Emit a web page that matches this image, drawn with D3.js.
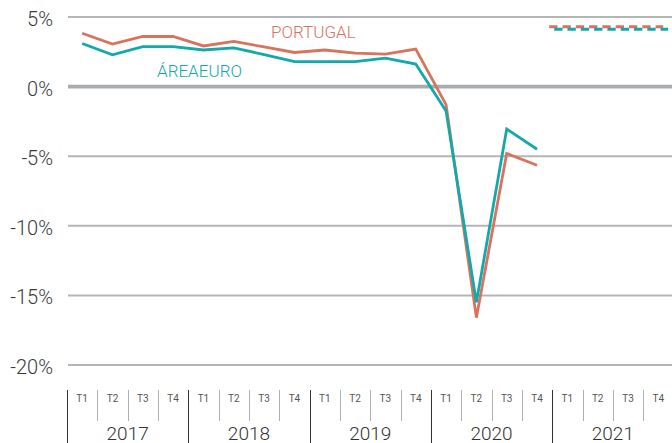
<!DOCTYPE html>
<html>
<head>
<meta charset="utf-8">
<script src="https://cdn.jsdelivr.net/npm/d3@7"></script>
<style>
  body { margin: 0; background: #fff; }
  text { font-family: Roboto, "Open Sans", sans-serif; }
</style>
</head>
<body>
<div id="chart"></div>
<script>
const years = ["2017", "2018", "2019", "2020", "2021"];
const quarters = ["T1", "T2", "T3", "T4"];
const y_ticks = [5, 0, -5, -10, -15, -20];

// quarterly growth (yoy %), 2017T1 .. 2020T4
const portugal = [3.83, 3.05, 3.6, 3.6, 2.92, 3.25, 2.85, 2.45, 2.63, 2.4, 2.33, 2.7, -1.3, -16.6, -4.8, -5.65];
const euro_area = [3.1, 2.28, 2.87, 2.87, 2.63, 2.78, 2.3, 1.8, 1.8, 1.8, 2.04, 1.62, -1.75, -15.5, -3.05, -4.5];

// 2021 projection
const proj_year = "2021";
const portugal_proj = 4.3;
const euro_proj = 4.12;

const width = 672;
const height = 443;
const colPT = "#d8735e";
const colEA = "#13a9ab";

const svg = d3.select("#chart")
    .append("svg")
    .attr("width", width)
    .attr("height", height);

const quarter_keys = years.flatMap(yr => quarters.map(q => yr + q));

const x = d3.scaleBand()
    .domain(quarter_keys)
    .range([67, 673.5]);

const xYear = d3.scaleBand()
    .domain(years)
    .range([67, 673.5]);

const y = d3.scaleLinear()
    .domain([-20, 5])
    .range([365, 17]);

// grid
svg.selectAll(".grid")
    .data(y_ticks)
    .enter()
    .append("line")
    .attr("class", "grid")
    .attr("x1", 68)
    .attr("x2", width)
    .attr("y1", d => y(d))
    .attr("y2", d => y(d))
    .attr("stroke", d => d === 0 ? "#a9acaf" : "#b3b6b8")
    .attr("stroke-width", d => d === 0 ? 3.8 : 2);

svg.selectAll(".ylab")
    .data(y_ticks)
    .enter()
    .append("text")
    .attr("class", "ylab")
    .attr("x", 53)
    .attr("y", d => y(d) + 9)
    .attr("text-anchor", "end")
    .attr("font-size", 20)
    .attr("font-weight", 300)
    .attr("fill", "#3a3a3a")
    .text(d => d + "%");

// x axis: quarter ticks & labels
const bw = x.bandwidth();
svg.selectAll(".qtick")
    .data(quarter_keys)
    .enter()
    .append("line")
    .attr("class", "qtick")
    .attr("x1", d => Math.round(x(d)) + 0.5)
    .attr("x2", d => Math.round(x(d)) + 0.5)
    .attr("y1", 390)
    .attr("y2", d => d.endsWith("T1") ? height : 421)
    .attr("stroke", d => d.endsWith("T1") ? "#333" : "#b0b0b0")
    .attr("stroke-width", 1);

svg.selectAll(".qlab")
    .data(quarter_keys)
    .enter()
    .append("text")
    .attr("class", "qlab")
    .attr("x", d => x(d) + bw / 2)
    .attr("y", 402)
    .attr("text-anchor", "middle")
    .attr("font-size", 10)
    .attr("fill", "#555")
    .text(d => d.slice(4));

svg.selectAll(".ylab2")
    .data(years)
    .enter()
    .append("text")
    .attr("class", "ylab2")
    .attr("x", d => xYear(d) + xYear.bandwidth() / 2)
    .attr("y", 439.5)
    .attr("text-anchor", "middle")
    .attr("font-size", 19)
    .attr("font-weight", 300)
    .attr("fill", "#333")
    .text(d => d);

// lines
const line = d3.line()
    .x((d, i) => x(quarter_keys[i]) + bw / 2)
    .y(d => y(d));

svg.append("path")
    .datum(portugal)
    .attr("d", line)
    .attr("fill", "none")
    .attr("stroke", colPT)
    .attr("stroke-width", 2.8)
    .attr("stroke-linejoin", "miter");

svg.append("path")
    .datum(euro_area)
    .attr("d", line)
    .attr("fill", "none")
    .attr("stroke", colEA)
    .attr("stroke-width", 2.8)
    .attr("stroke-linejoin", "miter");

// projections (dashed)
const px0 = xYear(proj_year);
svg.append("line")
    .attr("x1", px0 - 3)
    .attr("x2", px0 + 111)
    .attr("y1", y(portugal_proj))
    .attr("y2", y(portugal_proj))
    .attr("stroke", colPT)
    .attr("stroke-width", 2.8)
    .attr("stroke-dasharray", "8.3,5");

svg.append("line")
    .attr("x1", px0 + 2)
    .attr("x2", px0 + 116)
    .attr("y1", y(euro_proj))
    .attr("y2", y(euro_proj))
    .attr("stroke", colEA)
    .attr("stroke-width", 2.8)
    .attr("stroke-dasharray", "8.3,5");

// series labels
svg.append("text")
    .attr("x", 271)
    .attr("y", 37.5)
    .attr("font-size", 17)
    .attr("font-weight", 300)
    .attr("fill", colPT)
    .text("PORTUGAL");

svg.append("text")
    .attr("x", 157)
    .attr("y", 77)
    .attr("font-size", 17)
    .attr("font-weight", 300)
    .attr("word-spacing", -4)
    .attr("fill", colEA)
    .text("ÁREA EURO");
</script>
</body>
</html>
